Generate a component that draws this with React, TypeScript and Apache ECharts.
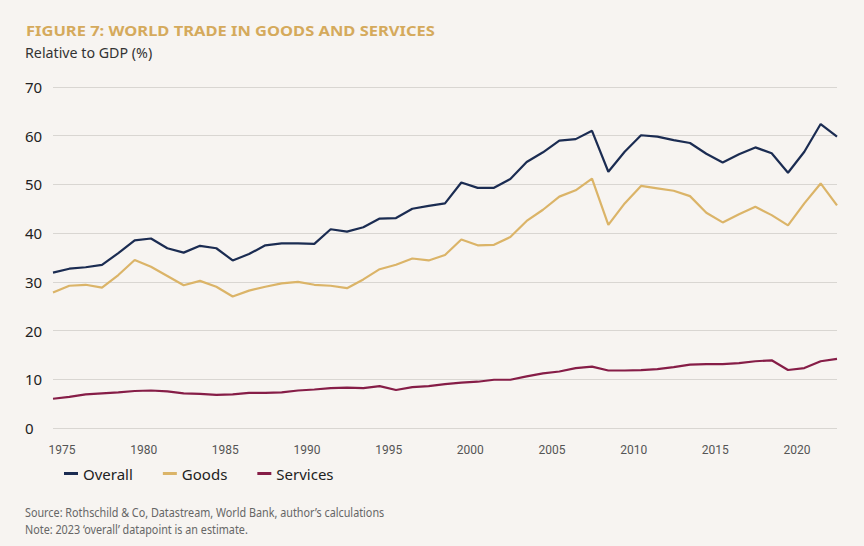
import React, { useRef, useEffect } from "react";
import * as echarts from "echarts";

const years: string[] = [];
for (let y = 1975; y <= 2023; y++) years.push(String(y));

const overall = [
  31.9, 32.7, 33.0, 33.5, 35.9, 38.5, 38.9, 36.9, 36.0, 37.4,
  36.9, 34.4, 35.7, 37.5, 37.9, 37.9, 37.8, 40.8, 40.3, 41.2,
  43.0, 43.1, 45.0, 45.6, 46.1, 50.4, 49.3, 49.3, 51.1, 54.6,
  56.6, 59.0, 59.3, 61.0, 52.6, 56.7, 60.1, 59.8, 59.1, 58.5,
  56.3, 54.5, 56.2, 57.6, 56.4, 52.4, 56.7, 62.4, 59.8,
];
const goods = [
  27.8, 29.2, 29.4, 28.8, 31.4, 34.5, 33.1, 31.2, 29.3, 30.2,
  29.0, 27.0, 28.2, 29.0, 29.7, 30.0, 29.4, 29.2, 28.7, 30.5,
  32.6, 33.5, 34.8, 34.4, 35.5, 38.7, 37.5, 37.6, 39.2, 42.5,
  44.8, 47.5, 48.8, 51.2, 41.7, 46.1, 49.7, 49.2, 48.7, 47.6,
  44.2, 42.2, 43.9, 45.4, 43.7, 41.6, 46.1, 50.2, 45.7,
];
const services = [
  6.0, 6.4, 6.9, 7.1, 7.3, 7.6, 7.7, 7.5, 7.1, 7.0,
  6.8, 6.9, 7.2, 7.2, 7.3, 7.7, 7.9, 8.2, 8.3, 8.2,
  8.6, 7.8, 8.4, 8.6, 9.0, 9.3, 9.5, 9.9, 9.9, 10.6,
  11.2, 11.6, 12.3, 12.6, 11.8, 11.8, 11.9, 12.1, 12.5, 13.0,
  13.1, 13.1, 13.3, 13.7, 13.9, 11.9, 12.3, 13.7, 14.2,
];

const seriesNames = ["Overall", "Goods", "Services"];
const seriesColors = ["#1b2c52", "#dbb468", "#861d47"];

const font = "'Noto Sans', 'Open Sans', sans-serif";
const narrow = "Roboto, 'Noto Sans', sans-serif";

const App = function () {
  const chart = useRef<HTMLDivElement>(null);
  useEffect(() => {
    document.body.style.margin = "0";
    if (!chart.current) return;
    const myChart = echarts.init(chart.current, null, { renderer: "svg" });
    const data = [overall, goods, services];
    const option = {
      animation: false,
      backgroundColor: "#f7f4f1",
      textStyle: { fontFamily: font },
      grid: { left: 53, right: 27, top: 87, bottom: 118 },
      graphic: [
        {
          type: "text",
          x: 26,
          y: 23,
          scaleX: 1.1,
          style: {
            text: "FIGURE 7: WORLD TRADE IN GOODS AND SERVICES",
            fill: "#d5aa5c",
            font: `bold 15px ${font}`,
          },
        },
        {
          type: "text",
          x: 25,
          y: 44,
          scaleX: 0.95,
          style: {
            text: "Relative to GDP (%)",
            fill: "#333",
            font: `15px ${font}`,
          },
        },
        {
          type: "text",
          x: 25,
          y: 506,
          scaleX: 0.9,
          style: {
            text: "Source: Rothschild & Co, Datastream, World Bank, author’s calculations",
            fill: "#666",
            font: `12px ${font}`,
          },
        },
        {
          type: "text",
          x: 25,
          y: 523,
          scaleX: 0.9,
          style: {
            text: "Note: 2023 ‘overall’ datapoint is an estimate.",
            fill: "#666",
            font: `12px ${font}`,
          },
        },
      ],
      legend: {
        left: 59,
        top: 461,
        icon: "rect",
        itemWidth: 14,
        itemHeight: 3,
        itemGap: 30,
        textStyle: { color: "#222", fontSize: 15, fontFamily: font },
        data: seriesNames,
      },
      xAxis: {
        type: "category",
        data: years,
        boundaryGap: false,
        axisLine: { show: false },
        axisTick: { show: false },
        axisLabel: {
          interval: (i: number) => i % 5 === 0,
          color: "#555",
          fontSize: 12,
          fontFamily: narrow,
          margin: 16,
          padding: [0, 0, 0, 18],
        },
      },
      yAxis: {
        type: "value",
        min: 0,
        max: 70,
        interval: 10,
        axisLine: { show: false },
        axisTick: { show: false },
        axisLabel: {
          color: "#222",
          fontSize: 15,
          align: "left",
          margin: 28,
        },
        splitLine: { lineStyle: { color: "#d9d6d2", width: 1 } },
      },
      series: seriesNames.map((name, i) => ({
        name,
        type: "line",
        data: data[i],
        symbol: "none",
        lineStyle: { color: seriesColors[i], width: 2.2 },
        itemStyle: { color: seriesColors[i] },
      })),
    };
    myChart.setOption(option);
    return () => {
      myChart.dispose();
    };
  }, []);
  return <div ref={chart} style={{ width: 864, height: 546 }}></div>;
};

export default App;
